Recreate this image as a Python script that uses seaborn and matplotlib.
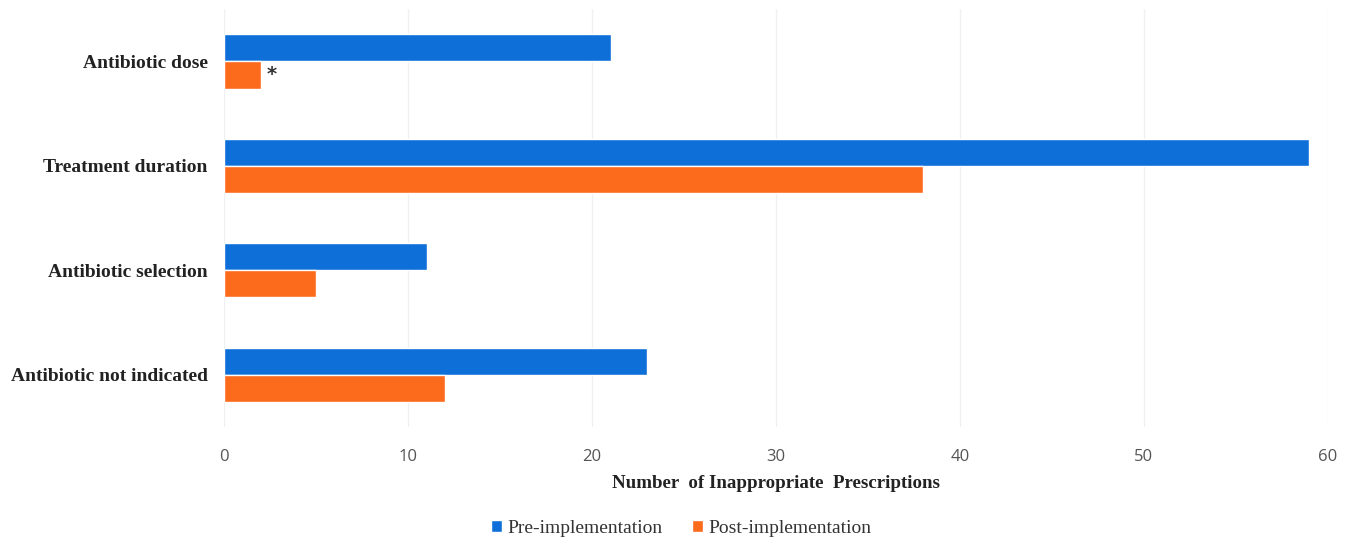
import numpy as np
import pandas as pd
import matplotlib
matplotlib.use('Agg')
import matplotlib.pyplot as plt
import seaborn as sns

sns.set_style('white')

# data
categories = ['Antibiotic dose', 'Treatment duration', 'Antibiotic selection', 'Antibiotic not indicated']
pre = [21, 59, 11, 23]
post = [2, 38, 5, 12]
groups = ['Pre-implementation', 'Post-implementation']
colors = ['#0f6fd8', '#fc6a1c']

df = pd.DataFrame({
    'category': categories * 2,
    'count': pre + post,
    'group': [groups[0]] * 4 + [groups[1]] * 4,
})

fig, ax = plt.subplots(figsize=(13.52, 5.39), dpi=100)
fig.subplots_adjust(left=0.166, right=0.982, top=0.983, bottom=0.208)

sns.barplot(data=df, y='category', x='count', hue='group', order=categories,
            hue_order=groups, palette=colors, width=0.52, orient='h',
            saturation=1, ax=ax, legend=True)

ax.set_xlim(0, 60)
ax.set_xticks(np.arange(0, 61, 10))
ax.set_ylim(3.5, -0.5)
ax.grid(axis='x', color='#f0f0f4', linewidth=1)
ax.set_axisbelow(True)
for s in ax.spines.values():
    s.set_visible(False)
ax.tick_params(axis='both', length=0)
ax.tick_params(axis='x', labelsize=12, labelcolor='#555555', pad=16)

for lab in ax.get_xticklabels():
    lab.set_family('Open Sans')
for lab in ax.get_yticklabels():
    lab.set_family('Liberation Serif')
    lab.set_fontweight('bold')
    lab.set_fontsize(14)
    lab.set_color('#222222')
ax.tick_params(axis='y', pad=12)

ax.set_ylabel('')
ax.set_xlabel('Number  of Inappropriate  Prescriptions', family='Liberation Serif',
              fontweight='bold', fontsize=13.6, color='#222222', labelpad=7)

# significance mark on the post bar of the first category
ax.text(post[0] + 0.3, 0.13, '*', fontsize=14, fontweight='bold',
        color='#333333', va='center', ha='left', family='DejaVu Sans')

ax.legend(loc='upper center', bbox_to_anchor=(0.414, -0.18), ncol=2, frameon=False,
          prop={'family': 'Liberation Serif', 'size': 14}, handlelength=0.55,
          handleheight=0.55, handletextpad=0.3, columnspacing=1.5)
for t in ax.get_legend().get_texts():
    t.set_color('#333333')

fig.savefig('out.png', dpi=100)
